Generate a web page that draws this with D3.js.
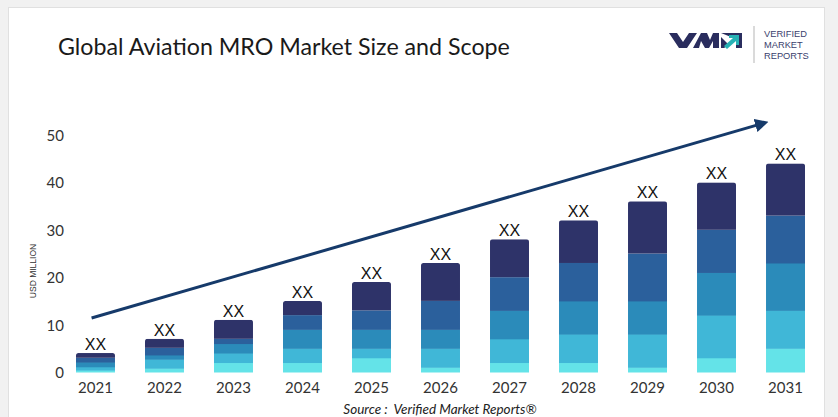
<!DOCTYPE html>
<html><head><meta charset="utf-8">
<script src="https://cdn.jsdelivr.net/npm/d3@7/dist/d3.min.js"></script>
<style>html,body{margin:0;padding:0;background:#f1f1f1;}svg{display:block;}</style>
</head><body>
<svg id="chart" width="838" height="417"></svg>
<script>
const years = ["2021","2022","2023","2024","2025","2026","2027","2028","2029","2030","2031"];
const seg1 = [0.4, 0.8, 2, 2, 3, 1, 2, 2, 1, 3, 5];
const seg2 = [0.7, 1.9, 2, 3, 2, 4, 5, 6, 7, 9, 8];
const seg3 = [1.0, 0.9, 2, 4, 4, 4, 6, 7, 7, 9, 10];
const seg4 = [0.9, 1.5, 1, 3, 4, 6, 7, 8, 10, 9, 10];
const seg5 = [1.0, 1.9, 4, 3, 6, 8, 8, 9, 11, 10, 11];
const barLabels = ["XX","XX","XX","XX","XX","XX","XX","XX","XX","XX","XX"];
const yTicks = [0, 10, 20, 30, 40, 50];
const segColors = ["#64e3e8", "#40b7d7", "#2b8bba", "#2b609c", "#2e3369"];
const arrowFrom = {year: "2021", value: 11.4};
const arrowTo = {year: "2031", value: 52.4};

const svg = d3.select("#chart");
const W = 838, H = 417;

// card
svg.append("rect").attr("x", 0).attr("y", 0).attr("width", W).attr("height", H).attr("fill", "#f1f1f1");
svg.append("rect").attr("x", 8.5).attr("y", 7.5).attr("width", 816).attr("height", 430)
  .attr("fill", "#ffffff").attr("stroke", "#e0e0e0");

// title
const title = svg.append("text").attr("x", 58).attr("y", 55)
  .attr("font-family", "Lato, 'Open Sans', sans-serif").attr("font-size", 23)
  .attr("fill", "#1a1a1a").text("Global Aviation MRO Market Size and Scope");
const tl = title.node().getComputedTextLength();
title.attr("font-size", 23 * 452 / tl);

// logo
const logo = svg.append("g");
logo.append("path").attr("fill", "#2a2d5e")
  .attr("d", "M669,33 L677,33 L683,42 L689,33 L697,33 L687,48 L679,48 Z");
logo.append("path").attr("fill", "#2a2d5e")
  .attr("d", "M693,48 L701,33 L707,33 L710,40 L713,33 L719,33 L719,48 L713,48 L713,41 L709,48 L705,48 L701,41 L699,48 Z");
logo.append("path").attr("fill", "#2a2d5e")
  .attr("d", "M721,33 L742,33 L742,48 L736,48 L736,39 Z M721,37 L729,45 L724,48 L721,48 Z");
logo.append("path").attr("fill", "#27b2b5")
  .attr("d", "M724,46 L733,38 L729,38 L729,35 L739,35 L739,45 L736,45 L736,41 L727,49 Z");
logo.append("line").attr("x1", 754).attr("x2", 754).attr("y1", 26).attr("y2", 63)
  .attr("stroke", "#b5b5b5").attr("stroke-width", 1);
["VERIFIED","MARKET","REPORTS"].forEach((t, i) => {
  logo.append("text").attr("x", 764).attr("y", 37.3 + i * 10.8)
    .attr("font-family", "'Liberation Sans', Arial, sans-serif").attr("font-size", 9.3)
    .attr("fill", "#3a3e6d").text(t);
});

// scales
const x = d3.scaleBand().domain(years).range([76, 805]).paddingInner(0.435).paddingOuter(0);
const y = d3.scaleLinear().domain([0, 50]).range([372, 135]);

// stacked data
const rows = years.map((yr, i) => ({year: yr, s1: seg1[i], s2: seg2[i], s3: seg3[i], s4: seg4[i], s5: seg5[i]}));
const keys = ["s1","s2","s3","s4","s5"];
const stacked = d3.stack().keys(keys)(rows);

// clip paths for rounded tops
const defs = svg.append("defs");
rows.forEach((r, i) => {
  const total = keys.reduce((a, k) => a + r[k], 0);
  defs.append("clipPath").attr("id", "clip" + i)
    .append("rect").attr("x", x(r.year)).attr("y", y(total))
    .attr("width", x.bandwidth()).attr("height", y(0) - y(total) + 4).attr("rx", 2.5);
});

const gBars = svg.append("g");
stacked.forEach((layer, li) => {
  gBars.append("g").attr("fill", segColors[li]).selectAll("rect").data(layer).join("rect")
    .attr("clip-path", (d, i) => "url(#clip" + i + ")")
    .attr("x", d => x(d.data.year))
    .attr("y", d => y(d[1]))
    .attr("width", x.bandwidth())
    .attr("height", d => y(d[0]) - y(d[1]) + (li < 4 ? 0.5 : 0));
});

// bar labels
const totals = rows.map(r => keys.reduce((a, k) => a + r[k], 0));
svg.append("g").selectAll("text").data(years).join("text")
  .attr("x", d => x(d) + x.bandwidth() / 2)
  .attr("y", (d, i) => y(totals[i]) - 3)
  .attr("text-anchor", "middle")
  .attr("font-family", "'Liberation Sans', Arial, sans-serif").attr("font-size", 16)
  .attr("fill", "#111").text((d, i) => barLabels[i]);

// axes
const yAxis = svg.append("g").attr("transform", "translate(64,0)")
  .call(d3.axisLeft(y).tickValues(yTicks).tickSize(0).tickPadding(0));
yAxis.select(".domain").remove();
yAxis.selectAll("text").attr("font-family", "Lato, sans-serif").attr("font-size", 15).attr("fill", "#333")
  .attr("dy", "0.36em");

const xAxis = svg.append("g").attr("transform", "translate(0,372)")
  .call(d3.axisBottom(x).tickSize(0).tickPadding(10));
xAxis.select(".domain").remove();
xAxis.selectAll("text").attr("font-family", "Lato, sans-serif").attr("font-size", 15).attr("fill", "#333")
  .attr("dy", "0.71em");

svg.append("text").attr("transform", "translate(36,271) rotate(-90)")
  .attr("text-anchor", "middle").attr("font-family", "'Liberation Sans', Arial, sans-serif")
  .attr("font-size", 8.5).attr("fill", "#333").text("USD MILLION");

// arrow
defs.append("marker").attr("id", "arrowhead").attr("viewBox", "0 0 10 10")
  .attr("refX", 5).attr("refY", 5).attr("markerWidth", 4.5).attr("markerHeight", 4.5)
  .attr("orient", "auto").attr("markerUnits", "strokeWidth")
  .append("path").attr("d", "M0,0 L10,5 L0,10 Z").attr("fill", "#163a6a");
svg.append("line")
  .attr("x1", x(arrowFrom.year) + x.bandwidth() * 0.4)
  .attr("y1", y(arrowFrom.value))
  .attr("x2", x(arrowTo.year) - 4)
  .attr("y2", y(arrowTo.value))
  .attr("stroke", "#163a6a").attr("stroke-width", 3)
  .attr("marker-end", "url(#arrowhead)");

// source
svg.append("text").attr("x", 440).attr("y", 414).attr("text-anchor", "middle")
  .attr("font-family", "Lato, sans-serif").attr("font-style", "italic").attr("font-size", 13.5)
  .attr("fill", "#222").text("Source :\u00a0 Verified Market Reports®");
</script>
</body></html>
